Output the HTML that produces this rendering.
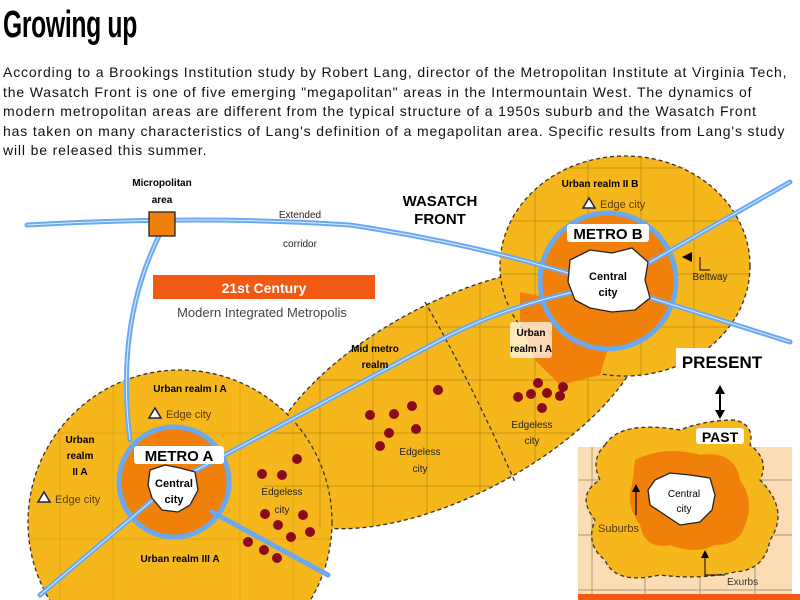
<!DOCTYPE html>
<html><head><style>
html,body{margin:0;background:#fff;width:800px;height:600px;overflow:hidden;font-family:"Liberation Sans",sans-serif}
.t{position:absolute;left:3px;top:4px;font:bold 38px "Liberation Sans Narrow","Liberation Sans",sans-serif;transform:scaleX(0.65);transform-origin:left;letter-spacing:-0.5px;line-height:42px}
.p{position:absolute;left:3px;top:63px;width:800px;font-size:14px;line-height:19.6px;color:#111;letter-spacing:0.85px;white-space:nowrap}
svg{position:absolute;left:0;top:0}
</style></head><body>
<div class="t">Growing up</div>
<div class="p">According to a Brookings Institution study by Robert Lang, director of the Metropolitan Institute at Virginia Tech,<br>the Wasatch Front is one of five emerging "megapolitan" areas in the Intermountain West. The dynamics of<br>modern metropolitan areas are different from the typical structure of a 1950s suburb and the Wasatch Front<br>has taken on many characteristics of Lang's definition of a megapolitan area. Specific results from Lang's study<br>will be released this summer.</div>
<svg width="800" height="600" font-family="Liberation Sans, sans-serif">
<defs>
<clipPath id="cl">
<ellipse cx="455" cy="398" rx="212" ry="96" transform="rotate(-28 455 398)"/>
<ellipse cx="625" cy="266" rx="125" ry="112"/>
</clipPath>
<clipPath id="ca"><circle cx="180" cy="522" r="152"/></clipPath>
</defs>
<!-- inset -->
<rect x="578" y="447" width="214" height="150" fill="#fbdcb4"/>
<g stroke="#8a7a60" stroke-width="1" opacity="0.7"><path d="M578 480H792M578 535H792M578 590H792M592 447V597M645 447V597M700 447V597M755 447V597"/></g>
<rect x="578" y="594" width="222" height="6" fill="#f25a14"/>
<path d="M605 445 Q620 420 680 430 Q705 420 735 420 Q755 425 750 445 Q770 460 760 480 Q790 510 770 540 Q765 570 735 572 Q700 580 660 575 Q615 585 605 560 Q585 545 595 520 Q575 495 600 480 Q590 460 605 445Z" fill="#f6b71c" stroke="#333" stroke-width="1.3" stroke-dasharray="4 3"/>
<path d="M635 460 Q665 445 700 455 Q735 450 740 480 Q755 500 745 525 Q740 545 715 545 Q695 555 670 545 Q645 550 640 525 Q625 505 632 485Z" fill="#f0800a"/>
<path d="M655 480 L670 473 L690 475 L710 478 L715 495 L712 510 L700 522 L680 525 L665 515 L650 505 L648 490Z" fill="#fff" stroke="#222" stroke-width="1.3"/>
<text x="684" y="497" font-size="10" text-anchor="middle">Central</text><text x="684" y="512" font-size="10" text-anchor="middle">city</text>
<path d="M636 515V490" stroke="#000" stroke-width="1.2"/><path d="M632 492L636 484L640 492Z"/>
<text x="598" y="532" font-size="11" fill="#5a3a00">Suburbs</text>
<path d="M705 555V575H725" stroke="#000" stroke-width="1" fill="none"/><path d="M701 558L705 550L709 558Z"/>
<text x="727" y="585" font-size="10" fill="#333">Exurbs</text>
<rect x="696" y="428" width="48" height="16" fill="#fff" rx="3"/>
<text x="720" y="442" font-size="14" font-weight="bold" text-anchor="middle">PAST</text>
<path d="M720 392V412" stroke="#000" stroke-width="2"/><path d="M715 394L720 385L725 394Z"/><path d="M715 410L720 419L725 410Z"/>
<!-- ellipse -->
<ellipse cx="455" cy="398" rx="212" ry="96" transform="rotate(-28 455 398)" fill="#f6b71c" stroke="#333" stroke-width="1.3" stroke-dasharray="4 3"/>
<!-- metro B -->
<ellipse cx="625" cy="266" rx="125" ry="110" fill="#f6b71c" stroke="#333" stroke-width="1.3" stroke-dasharray="4 3"/>
<!-- metro A -->
<circle cx="180" cy="522" r="152" fill="#f6b71c" stroke="#333" stroke-width="1.3" stroke-dasharray="4 3"/>
<g clip-path="url(#cl)" stroke="#8a6a00" stroke-width="1" opacity="0.45">
<path d="M250 168H790M250 221H790M250 274H790M250 327H790M250 380H790M250 433H790M250 486H790M250 539H790M320 150V560M373 150V560M427 150V560M480 150V560M535 150V560M588 150V560M641 150V560M694 150V560"/>
</g>
<g clip-path="url(#ca)" stroke="#8a6a00" stroke-width="1" opacity="0.2">
<path d="M30 433H330M30 539H330M60 380V600M113 380V600M240 380V600M293 380V600"/>
</g>
<path d="M425 302 Q470 380 515 482" stroke="#333" stroke-width="1.3" stroke-dasharray="4 3" fill="none"/>
<!-- urban realm I A orange -->
<path d="M520 292 L560 300 L612 335 L600 375 L560 385 L535 360 L520 320Z" fill="#f0800a"/>
<!-- metro rings -->
<circle cx="608" cy="281" r="68" fill="#f0800a"/>
<circle cx="174" cy="482" r="55" fill="#f0800a"/>
<!-- roads -->
<g stroke="#6aa8f0" stroke-width="5" fill="none" stroke-linecap="round">
<path d="M27 225 Q200 215 350 225 Q450 240 540 265 L610 285 L790 342"/>
<path d="M40 595 L174 482 L450 335 Q520 300 610 285 L790 182"/>
<path d="M162 230 Q115 320 130 440"/>
<path d="M212 512 L328 575"/>
<circle cx="608" cy="281" r="68"/>
<circle cx="174" cy="482" r="55"/>
</g>
<g stroke="#d9ecff" stroke-width="1" fill="none">
<path d="M27 225 Q200 215 350 225 Q450 240 540 265 L610 285 L790 342"/>
<path d="M40 595 L174 482 L450 335 Q520 300 610 285 L790 182"/>
<path d="M162 230 Q115 320 130 440"/>
</g>
<rect x="676" y="348" width="94" height="24" fill="#fff"/>
<text x="722" y="368" font-size="17" font-weight="bold" text-anchor="middle">PRESENT</text>
<!-- central city blobs -->
<path d="M570 260 L590 250 L612 253 L632 248 L648 262 L645 280 L650 298 L635 310 L612 312 L590 308 L575 300 L568 282Z" fill="#fff" stroke="#222" stroke-width="1.3"/>
<text x="608" y="280" font-size="11" text-anchor="middle" font-weight="bold">Central</text><text x="608" y="296" font-size="11" text-anchor="middle" font-weight="bold">city</text>
<path d="M150 470 L165 465 L180 468 L195 472 L198 490 L190 505 L178 512 L162 510 L152 498 L148 485Z" fill="#fff" stroke="#222" stroke-width="1.3"/>
<text x="174" y="487" font-size="11" text-anchor="middle" font-weight="bold">Central</text><text x="174" y="503" font-size="11" text-anchor="middle" font-weight="bold">city</text>
<!-- labels -->
<rect x="134" y="446" width="90" height="18" fill="#fff" rx="3"/>
<text x="179" y="461" font-size="15" font-weight="bold" text-anchor="middle">METRO A</text>
<rect x="567" y="224" width="82" height="18" fill="#fff" rx="3"/>
<text x="608" y="239" font-size="15" font-weight="bold" text-anchor="middle">METRO B</text>
<rect x="149" y="212" width="26" height="24" fill="#f0800a" stroke="#222" stroke-width="1.3"/>
<g font-size="10" font-weight="bold" text-anchor="middle">
<text x="162" y="186">Micropolitan</text><text x="162" y="203">area</text>
<text x="190" y="392">Urban realm I A</text>
<text x="80" y="443">Urban</text><text x="80" y="459">realm</text><text x="80" y="475">II A</text>
<text x="180" y="562">Urban realm III A</text>
<text x="375" y="352">Mid metro</text><text x="375" y="368">realm</text>
<text x="600" y="187">Urban realm II B</text>
</g>
<g font-size="10" text-anchor="middle" fill="#222">
<text x="300" y="218">Extended</text><text x="300" y="247">corridor</text>
<text x="282" y="495">Edgeless</text><text x="282" y="513">city</text>
<text x="420" y="455">Edgeless</text><text x="420" y="472">city</text>
<text x="532" y="428">Edgeless</text><text x="532" y="444">city</text>
<text x="710" y="280">Beltway</text>
</g>
<rect x="510" y="322" width="42" height="36" fill="#fff" opacity="0.7" rx="3"/>
<text x="531" y="336" font-size="10" text-anchor="middle" font-weight="bold">Urban</text><text x="531" y="352" font-size="10" text-anchor="middle" font-weight="bold">realm I A</text>
<path d="M710 270H700V257" stroke="#000" fill="none"/><path d="M682 257L692 252V262Z"/>
<g font-size="11" fill="#5a3a00">
<path d="M149 418L155 408L161 418Z" fill="#fff" stroke="#224" stroke-width="1.5"/><text x="166" y="418">Edge city</text>
<path d="M38 502L44 492L50 502Z" fill="#fff" stroke="#224" stroke-width="1.5"/><text x="55" y="503">Edge city</text>
<path d="M583 208L589 198L595 208Z" fill="#fff" stroke="#224" stroke-width="1.5"/><text x="600" y="208">Edge city</text>
</g>
<text x="440" y="206" font-size="15" font-weight="bold" text-anchor="middle">WASATCH</text>
<text x="440" y="224" font-size="15" font-weight="bold" text-anchor="middle">FRONT</text>
<rect x="153" y="275" width="222" height="24" fill="#f25a14"/>
<text x="264" y="293" font-size="14" font-weight="bold" fill="#fff" text-anchor="middle">21st Century</text>
<text x="262" y="317" font-size="13" fill="#444" text-anchor="middle">Modern Integrated Metropolis</text>
<!-- dots -->
<g fill="#8b0a1a">
<circle cx="297" cy="459" r="5"/><circle cx="262" cy="474" r="5"/><circle cx="282" cy="475" r="5"/><circle cx="265" cy="514" r="5"/><circle cx="303" cy="515" r="5"/><circle cx="278" cy="525" r="5"/><circle cx="310" cy="532" r="5"/><circle cx="291" cy="537" r="5"/><circle cx="248" cy="542" r="5"/><circle cx="264" cy="550" r="5"/><circle cx="277" cy="558" r="5"/>
<circle cx="438" cy="390" r="5"/><circle cx="370" cy="415" r="5"/><circle cx="394" cy="414" r="5"/><circle cx="412" cy="406" r="5"/><circle cx="389" cy="433" r="5"/><circle cx="416" cy="429" r="5"/><circle cx="380" cy="446" r="5"/>
<circle cx="518" cy="397" r="5"/><circle cx="538" cy="383" r="5"/><circle cx="531" cy="394" r="5"/><circle cx="547" cy="393" r="5"/><circle cx="563" cy="387" r="5"/><circle cx="542" cy="408" r="5"/><circle cx="560" cy="396" r="5"/>
</g>
</svg>
</body></html>
